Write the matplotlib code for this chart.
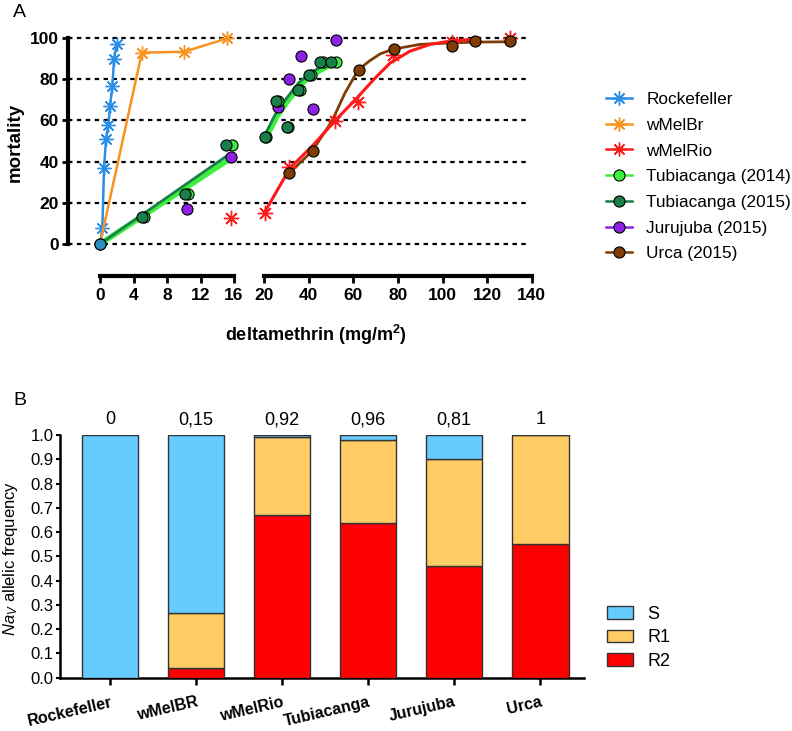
import matplotlib
matplotlib.use('Agg')
import matplotlib.pyplot as plt
import numpy as np
from matplotlib.lines import Line2D
from matplotlib.patches import Patch

plt.rcParams['font.family'] = ['Liberation Sans', 'DejaVu Sans']
plt.rcParams['mathtext.fontset'] = 'custom'
plt.rcParams['mathtext.rm'] = 'Liberation Sans'
plt.rcParams['mathtext.it'] = 'Liberation Sans:italic'
plt.rcParams['mathtext.bf'] = 'Liberation Sans:bold'

# ---------------- Panel A data ----------------
rock_x = [0, 0.28, 0.48, 0.72, 1.0, 1.2, 1.48, 1.68, 2.0]
rock_y = [0, 7.6, 36.8, 50.9, 57.8, 66.8, 76.8, 89.8, 97.2]

wmelbr_x = [0, 5.0, 10.0, 15.2]
wmelbr_y = [0, 92.9, 93.3, 99.8]

wmelrio_x = [15.65, 20.3, 31.2, 51.7, 62.2, 77.9, 104.1, 130.3]
wmelrio_y = [12.5, 15.2, 37.3, 59.9, 68.7, 91.9, 98.3, 100.0]
wmelrio_fit_x = [20.3, 31.5, 42.0, 51.7, 61.5, 69.5, 76.4, 85.4, 94.4, 103.3, 112.3]
wmelrio_fit_y = [15.7, 36.8, 48.1, 59.8, 70.8, 80.3, 87.8, 93.6, 96.9, 98.5, 99.3]

tub14_x = [5.2, 10.5, 15.8, 20.6, 26.0, 30.5, 35.9, 41.0, 46.5, 52.2]
tub14_y = [13.3, 24.2, 48.1, 51.9, 69.2, 56.7, 74.9, 82.1, 88.3, 88.3]
tub14_fit_left_x = [0, 15.3]
tub14_fit_left_y = [0, 40.8]
tub14_fit_right_x = [21.0, 25.5, 30.7, 36.0, 41.2, 47.9]
tub14_fit_right_y = [52.0, 61.7, 69.8, 77.1, 82.0, 86.0]

tub15_x = [0, 5.0, 10.1, 15.0, 20.3, 25.1, 30.0, 35.0, 40.1, 45.1, 49.9]
tub15_y = [0, 13.3, 24.2, 48.1, 51.9, 69.2, 56.7, 74.9, 82.1, 88.3, 88.3]
tub15_fit_left_x = [0, 15.0]
tub15_fit_left_y = [0, 42.4]
tub15_fit_right_x = [20.3, 24.8, 30.0, 35.3, 40.5, 47.2]
tub15_fit_right_y = [53.0, 62.7, 70.8, 78.1, 83.0, 87.0]

juru_x = [10.4, 15.65, 26.0, 31.2, 36.5, 41.7, 52.0]
juru_y = [16.9, 42.1, 66.4, 80.0, 91.1, 65.6, 98.9]

urca_x = [31.2, 41.7, 62.5, 78.2, 104.4, 114.6, 130.3]
urca_y = [34.7, 45.2, 84.6, 94.6, 95.9, 98.4, 98.4]
urca_fit_x = [31.2, 41.3, 50.3, 56.2, 62.2, 67.4, 72.0, 77.9, 89.9, 103.3, 115.3, 130.3]
urca_fit_y = [34.4, 44.9, 59.5, 73.3, 84.6, 89.0, 92.3, 94.6, 96.9, 97.6, 98.0, 98.2]

zero_x = [0]
zero_y = [0]

mort_ticks = [0, 20, 40, 60, 80, 100]
left_ticks = [0, 4, 8, 12, 16]
right_ticks = [20, 40, 60, 80, 100, 120, 140]

# ---------------- Panel B data ----------------
categories = ['Rockefeller', 'wMelBR', 'wMelRio', 'Tubiacanga', 'Jurujuba', 'Urca']
r2 = [0.0, 0.038, 0.670, 0.639, 0.460, 0.551]
r1 = [0.0, 0.230, 0.320, 0.340, 0.440, 0.449]
s = [1.0, 0.732, 0.010, 0.021, 0.100, 0.0]
top_labels = ['0', '0,15', '0,92', '0,96', '0,81', '1']
freq_ticks = [0.0, 0.1, 0.2, 0.3, 0.4, 0.5, 0.6, 0.7, 0.8, 0.9, 1.0]

# colours
c_rock = '#2a8de6'
c_br = '#f7931e'
c_rio = '#ff1a1a'
c_t14 = '#3ef03e'
c_t15 = '#1a7f4b'
c_juru = '#8b22e6'
c_urca = '#7f3c05'
c_zero = '#2a8fbd'
c_S = '#66ccff'
c_R1 = '#ffcc66'
c_R2 = '#ff0000'

W, H = 792, 731
fig = plt.figure(figsize=(W / 100, H / 100), dpi=100)

def fx(px):
    return px / W

def fy(py):
    return 1 - py / H

bA = fy(244)
hA = (244 - 38) / H

# background axes: y axis + dashed grid
axbg = fig.add_axes([fx(68), bA, (532 - 68) / W, hA])
axbg.set_xlim(0, 1)
axbg.set_ylim(0, 100)
for sp in ['top', 'right', 'bottom']:
    axbg.spines[sp].set_visible(False)
axbg.spines['left'].set_linewidth(3)
axbg.spines['left'].set_zorder(3)
axbg.set_xticks([])
axbg.set_yticks(mort_ticks)
axbg.set_yticklabels([str(t) for t in mort_ticks], fontsize=12.5, fontweight='bold')
axbg.tick_params(axis='y', length=4.5, width=2, pad=2)
for yv in mort_ticks:
    axbg.axhline(yv, xmin=0, xmax=(530 - 68) / (532 - 68), color='black',
                 lw=1.6, ls=(0, (2, 2)), zorder=0, clip_on=False)
axbg.patch.set_visible(False)

def seg_axes(x0, x1, lim, ticks):
    ax = fig.add_axes([fx(x0), bA, (x1 - x0) / W, hA])
    ax.set_xlim(*lim)
    ax.set_ylim(0, 100)
    ax.patch.set_visible(False)
    for sp in ['top', 'right', 'left']:
        ax.spines[sp].set_visible(False)
    ax.spines['bottom'].set_position(('outward', 23))
    ax.spines['bottom'].set_linewidth(3)
    ax.set_yticks([])
    ax.set_xticks(ticks)
    ax.set_xticklabels([str(t) for t in ticks], fontsize=12.5, fontweight='bold')
    ax.tick_params(axis='x', length=5, width=2, pad=4)
    return ax

axL = seg_axes(100, 234, (0, 16), left_ticks)
axR = seg_axes(264.3, 531.7, (20, 140), right_ticks)

def split(xs, ys, left):
    pts = [(x, y) for x, y in zip(xs, ys) if (x <= 16) == left]
    return [p[0] for p in pts], [p[1] for p in pts]

star = (8, 2, 0)
kw_line = dict(clip_on=False)
STAR_MS = 10
STAR_MEW = 1.0

# Left segment
axL.plot(tub14_fit_left_x, tub14_fit_left_y, color=c_t14, lw=4, zorder=2, **kw_line)
axL.plot(tub15_fit_left_x, tub15_fit_left_y, color=c_t15, lw=2, zorder=2.1, **kw_line)
axL.plot(rock_x, rock_y, color=c_rock, lw=1.8, marker=star, ms=STAR_MS, mew=STAR_MEW,
         markevery=list(range(1, len(rock_x))), zorder=3, **kw_line)
axL.plot(wmelbr_x, wmelbr_y, color=c_br, lw=1.8, marker=star, ms=STAR_MS, mew=STAR_MEW,
         markevery=list(range(1, len(wmelbr_x))), zorder=3, **kw_line)
# Right segment lines
axR.plot(tub14_fit_right_x, tub14_fit_right_y, color=c_t14, lw=4, zorder=2, **kw_line)
axR.plot(tub15_fit_right_x, tub15_fit_right_y, color=c_t15, lw=2, zorder=2.1, **kw_line)
axR.plot(urca_fit_x, urca_fit_y, color=c_urca, lw=2, zorder=2.2, **kw_line)
axR.plot(wmelrio_fit_x, wmelrio_fit_y, color=c_rio, lw=2.2, zorder=2.3, **kw_line)

for ax, left in [(axL, True), (axR, False)]:
    x, y = split(wmelrio_x, wmelrio_y, left)
    ax.plot(x, y, ls='none', marker=star, ms=STAR_MS + 1, mew=STAR_MEW, color=c_rio,
            zorder=4, **kw_line)
    x, y = split(juru_x, juru_y, left)
    ax.plot(x, y, ls='none', marker='o', ms=8, mfc=c_juru, mec='black', mew=0.8, zorder=5, **kw_line)
    x, y = split(tub14_x, tub14_y, left)
    ax.plot(x, y, ls='none', marker='o', ms=8, mfc=c_t14, mec='black', mew=0.8, zorder=6, **kw_line)
    x, y = split(tub15_x, tub15_y, left)
    ax.plot(x, y, ls='none', marker='o', ms=8, mfc=c_t15, mec='black', mew=0.8, zorder=7, **kw_line)
    x, y = split(urca_x, urca_y, left)
    ax.plot(x, y, ls='none', marker='o', ms=8, mfc=c_urca, mec='black', mew=0.8, zorder=8, **kw_line)

axL.plot(zero_x, zero_y, ls='none', marker='o', ms=8, mfc=c_zero, mec='black', mew=0.8,
         zorder=9, clip_on=False)

fig.text(fx(15), fy(142), 'mortality', rotation=90, fontsize=13.5, fontweight='bold',
         ha='center', va='center')
fig.text(fx(316), fy(335), r'deltamethrin (mg/m$^{\mathbf{2}}$)', fontsize=13,
         fontweight='bold', ha='center', va='center')
fig.text(fx(13), fy(4), 'A', fontsize=14, ha='left', va='top')

# Legend A
handles_A = [
    Line2D([], [], color=c_rock, lw=1.8, marker=star, ms=STAR_MS, mew=STAR_MEW),
    Line2D([], [], color=c_br, lw=1.8, marker=star, ms=STAR_MS, mew=STAR_MEW),
    Line2D([], [], color=c_rio, lw=1.8, marker=star, ms=STAR_MS, mew=STAR_MEW),
    Line2D([], [], color=c_t14, lw=1.8, marker='o', ms=8, mfc=c_t14, mec='black', mew=0.8),
    Line2D([], [], color=c_t15, lw=1.8, marker='o', ms=8, mfc=c_t15, mec='black', mew=0.8),
    Line2D([], [], color=c_juru, lw=1.8, marker='o', ms=8, mfc=c_juru, mec='black', mew=0.8),
    Line2D([], [], color=c_urca, lw=1.8, marker='o', ms=8, mfc=c_urca, mec='black', mew=0.8),
]
labels_A = ['Rockefeller', 'wMelBr', 'wMelRio', 'Tubiacanga (2014)', 'Tubiacanga (2015)',
            'Jurujuba (2015)', 'Urca (2015)']
fig.legend(handles_A, labels_A, loc='upper left', bbox_to_anchor=(fx(606), fy(92)),
           frameon=False, fontsize=12.4, handlelength=1.5, handletextpad=0.85,
           labelspacing=0.62, borderpad=0, borderaxespad=0)

# ---------------- Panel B ----------------
axB = fig.add_axes([fx(60), fy(677.7), (584 - 60) / W, (677.7 - 435) / H])
xpos = np.arange(len(categories))
axB.bar(xpos, r2, width=0.66, color=c_R2, edgecolor='#333333', lw=1, zorder=3)
axB.bar(xpos, r1, width=0.66, bottom=r2, color=c_R1, edgecolor='#333333', lw=1, zorder=3)
bot_s = [a + b for a, b in zip(r2, r1)]
axB.bar(xpos, s, width=0.66, bottom=bot_s, color=c_S, edgecolor='#333333', lw=1, zorder=3)
axB.set_xlim(-0.581, 5.51)
axB.set_ylim(0, 1.0)
for sp in ['top', 'right']:
    axB.spines[sp].set_visible(False)
axB.spines['left'].set_linewidth(1.8)
axB.spines['bottom'].set_linewidth(1.8)
axB.set_yticks(freq_ticks)
axB.set_yticklabels(['%.1f' % t for t in freq_ticks], fontsize=12)
axB.tick_params(axis='y', length=3, width=1.5, pad=1.5)
axB.set_xticks(xpos)
axB.set_xticklabels(categories, fontsize=11.5, fontweight='bold', rotation=13,
                    ha='right', rotation_mode='anchor')
axB.tick_params(axis='x', length=5, width=1.8, pad=7)
for i, lab in enumerate(top_labels):
    axB.annotate(lab, (xpos[i], 1.0), xytext=(0, 5), textcoords='offset points',
                 ha='center', va='bottom', fontsize=13, annotation_clip=False)

fig.text(fx(11), fy(558), r'$\it{Na}_{\it{V}}$ allelic frequency', rotation=90,
         fontsize=12, ha='center', va='center')
fig.text(fx(13), fy(392), 'B', fontsize=14, ha='left', va='top')

handles_B = [Patch(facecolor=c_S, edgecolor='#333333', lw=1),
             Patch(facecolor=c_R1, edgecolor='#333333', lw=1),
             Patch(facecolor=c_R2, edgecolor='#333333', lw=1)]
fig.legend(handles_B, ['S', 'R1', 'R2'], loc='upper left', bbox_to_anchor=(fx(607), fy(606)),
           frameon=False, fontsize=13, handlelength=1.45, handleheight=0.72,
           handletextpad=0.8, labelspacing=0.35, borderpad=0, borderaxespad=0)

fig.savefig('out.png', dpi=100)
